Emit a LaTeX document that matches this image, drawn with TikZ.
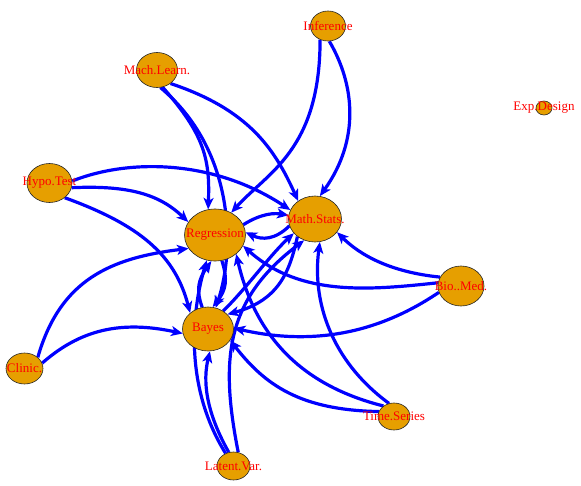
\documentclass[tikz,border=0pt]{standalone}
\usepackage{fontspec}
\setmainfont{Liberation Serif}
\usetikzlibrary{shapes.geometric,arrows.meta}
\pgfdeclarelayer{bg}
\pgfsetlayers{bg,main}
\definecolor{vfill}{HTML}{E69F00}
\begin{document}
\begin{tikzpicture}[x=1pt,y=-1pt,
  vert/.style={ellipse, draw=black!85, line width=0.6pt, fill=vfill, inner sep=0pt},
  lab/.style={text=red, font=\fontsize{13}{13}\selectfont, inner sep=0pt},
  edge/.style={draw=blue, line width=3.2pt, -{Stealth[length=11.5pt,width=10pt,inset=3pt]}}]
\useasboundingbox (0,0) rectangle (581,485);

\node[vert, minimum width=35pt, minimum height=30pt, label={[lab,name=infl]center:Inference}] (inf) at (328,26) {};
\node[vert, minimum width=16pt, minimum height=14pt, label={[lab,name=expl]center:Exp.Design}] (exp) at (544,108) {};
\node[vert, minimum width=41pt, minimum height=35pt, label={[lab,name=mll]center:Mach.Learn.}] (ml) at (157,70) {};
\node[vert, minimum width=45pt, minimum height=39pt, label={[lab,name=hypol]center:Hypo.Test}] (hypo) at (49.5,183) {};
\node[vert, minimum width=61pt, minimum height=52pt, label={[lab,name=regl]center:Regression}] (reg) at (215,235) {};
\node[vert, minimum width=53pt, minimum height=46pt, label={[lab,name=msl]center:Math.Stats.}] (ms) at (315,219) {};
\node[vert, minimum width=51pt, minimum height=44pt, label={[lab,name=bayesl]center:Bayes}] (bayes) at (208,329) {};
\node[vert, minimum width=46pt, minimum height=40pt, label={[lab,name=biol]center:Bio..Med.}] (bio) at (461,286) {};
\node[vert, minimum width=37pt, minimum height=31pt, label={[lab,name=clinl]center:Clinic.}] (clin) at (24.5,368.5) {};
\node[vert, minimum width=33pt, minimum height=28pt, label={[lab,name=latl]center:Latent.Var.}] (lat) at (233.5,466) {};
\node[vert, minimum width=32pt, minimum height=27pt, label={[lab,name=tsl]center:Time.Series}] (ts) at (394,416.5) {};

\begin{pgfonlayer}{bg}
\draw[edge] (inf.-120) .. controls (320,150) and (268,172) .. (reg.54);
\draw[edge] (inf.-85) .. controls (355,85) and (360,140) .. (ms.78);
\draw[edge] (ml.-72) .. controls (205,135) and (210,160) .. (reg.105);
\draw[edge] (ml.-79) .. controls (235,150) and (235,250) .. (bayes.70);
\draw[edge] (ml.-45) .. controls (250,110) and (275,150) .. (ms.133);
\draw[edge] (hypo.5) .. controls (130,158) and (215,160) .. (ms.160);
\draw[edge] (hypo.-12) .. controls (130,185) and (160,195) .. (reg.154);
\draw[edge] (hypo.-44) .. controls (140,225) and (175,255) .. (bayes.138);
\draw[edge] (clin.40) .. controls (60,280) and (110,258) .. (reg.207);
\draw[edge] (clin.17) .. controls (80,330) and (120,320) .. (bayes.190);
\draw[edge] (reg.20) .. controls (262,213) and (275,213) .. (ms.172);
\draw[edge] (ms.195) .. controls (275,240) and (262,240) .. (reg.5);
\draw[edge] (reg.-75) .. controls (228,280) and (226,290) .. (bayes.78);
\draw[edge] (bayes.105) .. controls (196,290) and (198,280) .. (reg.-98);
\draw[edge] (ms.-135) .. controls (290,270) and (280,300) .. (bayes.37);
\draw[edge] (bayes.50) .. controls (245,290) and (270,255) .. (ms.214);
\draw[edge] (lat.71) .. controls (220,360) and (225,300) .. (ms.243);
\draw[edge] (lat.109) .. controls (205,410) and (203,380) .. (bayes.-85);
\draw[edge] (lat.122) .. controls (180,380) and (195,300) .. (reg.-108);
\draw[edge] (bio.157) .. controls (390,272) and (360,255) .. (ms.-31);
\draw[edge] (bio.172) .. controls (370,290) and (300,297) .. (reg.-21);
\draw[edge] (bio.196) .. controls (395,322) and (330,350) .. (bayes.2);
\draw[edge] (ts.111) .. controls (330,360) and (312,300) .. (ms.-78);
\draw[edge] (ts.135) .. controls (300,385) and (255,335) .. (reg.-42);
\draw[edge] (ts.162) .. controls (300,410) and (265,385) .. (bayes.-27);
\end{pgfonlayer}
\end{tikzpicture}
\end{document}
